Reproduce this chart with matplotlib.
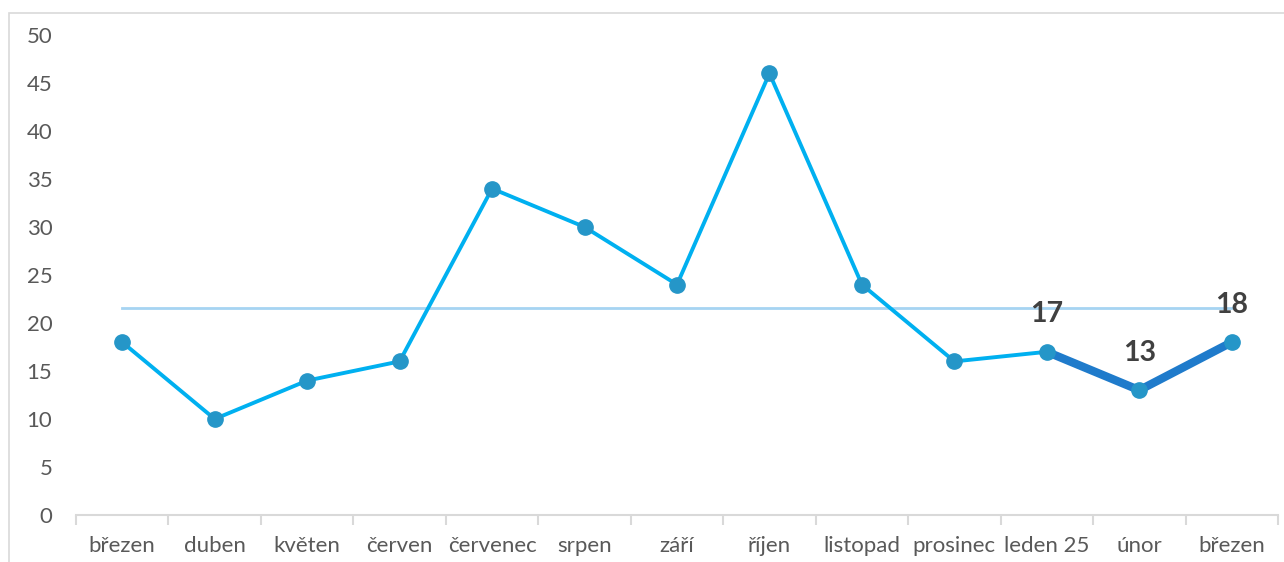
import matplotlib
matplotlib.use("Agg")
import matplotlib.pyplot as plt
from matplotlib.patches import Rectangle

plt.rcParams['font.family'] = ['Lato', 'DejaVu Sans']

months = ["březen", "duben", "květen", "červen", "červenec", "srpen", "září",
          "říjen", "listopad", "prosinec", "leden 25", "únor", "březen"]
values = [18, 10, 14, 16, 34, 30, 24, 46, 24, 16, 17, 13, 18]
highlight_from = 10          # last three months drawn as a thick segment
labeled = [10, 11, 12]       # points that carry a value label
y_ticks = [0, 5, 10, 15, 20, 25, 30, 35, 40, 45, 50]

average = sum(values) / len(values)

W, H = 1284, 562
fig = plt.figure(figsize=(W / 100, H / 100), dpi=100)
fig.patch.set_facecolor("white")

# chart-area frame (left and top edges visible)
fig.add_artist(Rectangle((9 / W, -0.1), 1.2, (H - 13) / H + 0.1,
                         transform=fig.transFigure, fill=False,
                         edgecolor="#d9d9d9", linewidth=1.2))

ax = fig.add_axes([76 / W, (H - 515) / H, (1278 - 76) / W, (515 - 35) / H])
x = list(range(len(values)))

ax.plot([x[0], x[-1]], [average, average], color="#a6d4f2", linewidth=2, zorder=1)
ax.plot(x[:highlight_from + 1], values[:highlight_from + 1], color="#00b0f0",
        linewidth=2.8, zorder=2)
ax.plot(x[highlight_from:], values[highlight_from:], color="#1f7bcb",
        linewidth=6, solid_capstyle="round", zorder=3)
ax.plot(x, values, linestyle="none", marker="o", markersize=11,
        color="#2596c8", zorder=4)

for i in labeled:
    ax.annotate(str(values[i]), (x[i], values[i]), xytext=(0, 27),
                textcoords="offset points", ha="center", va="center",
                fontsize=20.5, fontweight="bold", color="#404040", zorder=5)

ax.set_xlim(-0.5, len(values) - 0.5)
ax.set_ylim(0, 50)
ax.set_yticks(y_ticks)
ax.set_xticks(x)
ax.set_xticklabels(months)
ax.set_xticks([i - 0.5 for i in range(len(values) + 1)], minor=True)

for s in ["top", "right", "left"]:
    ax.spines[s].set_visible(False)
ax.spines["bottom"].set_color("#d9d9d9")
ax.spines["bottom"].set_linewidth(1.5)

ax.tick_params(axis="x", which="major", length=0, pad=15, labelsize=16,
               labelcolor="#595959")
ax.tick_params(axis="x", which="minor", length=7, width=1.5, color="#d9d9d9")
ax.tick_params(axis="y", length=0, pad=17, labelsize=16, labelcolor="#595959")

fig.savefig("out.png", dpi=100, facecolor="white")
